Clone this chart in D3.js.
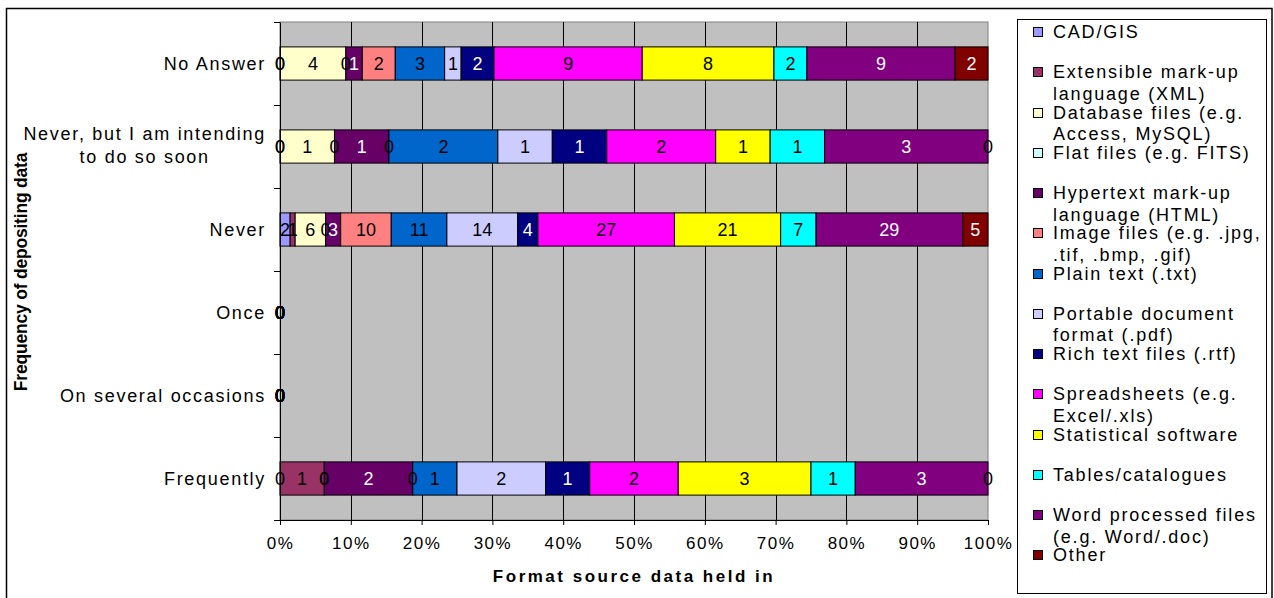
<!DOCTYPE html>
<html>
<head>
<meta charset="utf-8">
<script src="https://cdn.jsdelivr.net/npm/d3@7"></script>
<style>
  body { margin: 0; background: #fff; }
  svg { display: block; }
  text { font-family: "Liberation Sans", Arial, sans-serif; fill: #000; }
</style>
</head>
<body>
<svg id="chart" width="1274" height="598"></svg>
<script>
// Response categories (top to bottom)
const categories = [
  "No Answer",
  "Never, but I am intending to do so soon",
  "Never",
  "Once",
  "On several occasions",
  "Frequently"
];
const categoryLines = [
  ["No Answer"],
  ["Never, but I am intending", "to do so soon"],
  ["Never"],
  ["Once"],
  ["On several occasions"],
  ["Frequently"]
];

// Formats (stack order, left to right)
const seriesNames = [
  "CAD/GIS",
  "Extensible mark-up language (XML)",
  "Database files (e.g. Access, MySQL)",
  "Flat files (e.g. FITS)",
  "Hypertext mark-up language (HTML)",
  "Image files (e.g. .jpg, .tif, .bmp, .gif)",
  "Plain text (.txt)",
  "Portable document format (.pdf)",
  "Rich text files (.rtf)",
  "Spreadsheets (e.g. Excel/.xls)",
  "Statistical software",
  "Tables/catalogues",
  "Word processed files (e.g. Word/.doc)",
  "Other"
];
const legendLines = [
  ["CAD/GIS"],
  ["Extensible mark-up", "language (XML)"],
  ["Database files (e.g.", "Access, MySQL)"],
  ["Flat files (e.g. FITS)"],
  ["Hypertext mark-up", "language (HTML)"],
  ["Image files (e.g. .jpg,", ".tif, .bmp, .gif)"],
  ["Plain text (.txt)"],
  ["Portable document", "format (.pdf)"],
  ["Rich text files (.rtf)"],
  ["Spreadsheets (e.g.", "Excel/.xls)"],
  ["Statistical software"],
  ["Tables/catalogues"],
  ["Word processed files", "(e.g. Word/.doc)"],
  ["Other"]
];
const seriesColors = [
  "#9999FF", "#993366", "#FFFFCC", "#CCFFFF", "#660066", "#FF8080", "#0066CC",
  "#CCCCFF", "#000080", "#FF00FF", "#FFFF00", "#00FFFF", "#800080", "#800000"
];
const whiteLabelSeries = [
  "Hypertext mark-up language (HTML)", "Rich text files (.rtf)",
  "Word processed files (e.g. Word/.doc)", "Other"
];

// Counts per format, one value per category (same order as categories)
const cadGis       = [0, 0, 2, 0, 0, 0];
const xml          = [0, 0, 1, 0, 0, 1];
const database     = [4, 1, 6, 0, 0, 0];
const flatFiles    = [0, 0, 0, 0, 0, 0];
const html         = [1, 1, 3, 0, 0, 2];
const imageFiles   = [2, 0, 10, 0, 0, 0];
const plainText    = [3, 2, 11, 0, 0, 1];
const pdf          = [1, 1, 14, 0, 0, 2];
const rtf          = [2, 1, 4, 0, 0, 1];
const spreadsheets = [9, 2, 27, 0, 0, 2];
const statistical  = [8, 1, 21, 0, 0, 3];
const tables       = [2, 1, 7, 0, 0, 1];
const wordFiles    = [9, 3, 29, 0, 0, 3];
const other        = [2, 0, 5, 0, 0, 0];

const seriesValues = [cadGis, xml, database, flatFiles, html, imageFiles, plainText,
  pdf, rtf, spreadsheets, statistical, tables, wordFiles, other];

const xTicks = [0, 0.1, 0.2, 0.3, 0.4, 0.5, 0.6, 0.7, 0.8, 0.9, 1];

// Rows for d3.stack
const rows = categories.map((c, i) => {
  const r = { category: c };
  seriesNames.forEach((s, k) => { r[s] = seriesValues[k][i]; });
  return r;
});

const stacked = d3.stack()
  .keys(seriesNames)
  .offset(d3.stackOffsetExpand)(rows);

const svg = d3.select("#chart");

const plot = { left: 280, right: 988, top: 22, bottom: 520 };

const x = d3.scaleLinear().domain([0, 1]).range([plot.left, plot.right]);
const y = d3.scaleBand().domain(categories).range([plot.top, plot.bottom])
  .paddingInner(0.6).paddingOuter(0.3);
const color = d3.scaleOrdinal().domain(seriesNames).range(seriesColors);

// Outer frame
svg.append("rect")
  .attr("x", 6.5).attr("y", 8.5).attr("width", 1265.5).attr("height", 620)
  .attr("fill", "none").attr("stroke", "#000").attr("stroke-width", 1.5);

// Plot area
svg.append("rect")
  .attr("x", plot.left).attr("y", plot.top)
  .attr("width", plot.right - plot.left).attr("height", plot.bottom - plot.top)
  .attr("fill", "#C0C0C0").attr("stroke", "#808080").attr("stroke-width", 1);

// Vertical gridlines
svg.append("g").selectAll("line")
  .data(xTicks.slice(1, -1))
  .join("line")
  .attr("x1", d => Math.round(x(d)) + 0.5).attr("x2", d => Math.round(x(d)) + 0.5)
  .attr("y1", plot.top).attr("y2", plot.bottom)
  .attr("stroke", "#000").attr("stroke-width", 1);

// Bars
const layers = svg.append("g").selectAll("g")
  .data(stacked)
  .join("g")
  .attr("fill", d => color(d.key));

layers.selectAll("rect")
  .data(d => d.map((p, i) => ({ p, cat: categories[i] })))
  .join("rect")
  .attr("x", d => x(d.p[0]))
  .attr("y", d => y(d.cat))
  .attr("width", d => Math.max(0, x(d.p[1]) - x(d.p[0])))
  .attr("height", y.bandwidth())
  .attr("stroke", "#000").attr("stroke-width", 1)
  .attr("display", d => (d.p[1] - d.p[0]) > 0 ? null : "none");

// Value labels
const labelG = svg.append("g");
stacked.forEach((layer, k) => {
  const name = layer.key;
  layer.forEach((p, i) => {
    const v = seriesValues[k][i];
    labelG.append("text")
      .attr("x", x((p[0] + p[1]) / 2))
      .attr("y", y(categories[i]) + y.bandwidth() / 2 + 6.5)
      .attr("text-anchor", "middle")
      .style("font-size", "18px")
      .style("fill", whiteLabelSeries.includes(name) && v > 0 ? "#fff" : "#000")
      .text(v);
  });
});

// X axis
const xAxis = svg.append("g")
  .attr("transform", `translate(0,${plot.bottom})`)
  .call(d3.axisBottom(x).tickValues(xTicks).tickFormat(d3.format(".0%")).tickSize(5).tickSizeOuter(0));
xAxis.select(".domain").attr("stroke", "#000");
xAxis.selectAll(".tick line").attr("stroke", "#000");
xAxis.selectAll(".tick text")
  .attr("y", 29).attr("dy", 0)
  .style("font-size", "17px").style("letter-spacing", "1.5px")
  .style("font-family", "'Liberation Sans', Arial, sans-serif").attr("fill", "#000");

// Y axis
const yAxis = svg.append("g")
  .attr("transform", `translate(${plot.left},0)`)
  .call(d3.axisLeft(y).tickSize(0).tickSizeOuter(0).tickFormat(() => ""));
yAxis.select(".domain").attr("stroke", "#000");

// Ticks at category boundaries
const boundaries = categories.map(c => y(c) - y.step() * y.paddingOuter())
  .concat([plot.bottom]);
svg.append("g").selectAll("line")
  .data(boundaries)
  .join("line")
  .attr("x1", plot.left - 6).attr("x2", plot.left)
  .attr("y1", d => Math.round(d) + 0.5).attr("y2", d => Math.round(d) + 0.5)
  .attr("stroke", "#000");

// Category labels
const catG = svg.append("g");
categories.forEach((c, i) => {
  const lines = categoryLines[i];
  const cy = y(c) + y.bandwidth() / 2;
  const t = catG.append("text")
    .style("font-size", "18px").style("letter-spacing", "1.7px");
  if (lines.length === 1) {
    t.attr("x", 266).attr("y", cy + 6).attr("text-anchor", "end").text(lines[0]);
  } else {
    t.attr("text-anchor", "middle");
    lines.forEach((ln, j) => {
      t.append("tspan").attr("y", cy - 7 + j * 23.4).text(ln);
    });
    const w = d3.max(t.selectAll("tspan").nodes(), n => n.getComputedTextLength());
    t.selectAll("tspan").attr("x", 266 - w / 2);
  }
});

// Axis titles
svg.append("text")
  .attr("x", (plot.left + plot.right) / 2).attr("y", 582)
  .attr("text-anchor", "middle")
  .style("font-size", "17px").style("font-weight", "bold").style("letter-spacing", "2.5px")
  .text("Format source data held in");

svg.append("text")
  .attr("transform", "translate(27,272) rotate(-90)")
  .attr("text-anchor", "middle")
  .style("font-size", "17.5px").style("font-weight", "bold").style("letter-spacing", "-0.2px")
  .text("Frequency of depositing data");

// Legend
const legend = svg.append("g");
legend.append("rect")
  .attr("x", 1017.5).attr("y", 19.5).attr("width", 249).attr("height", 574)
  .attr("fill", "#fff").attr("stroke", "#000").attr("stroke-width", 1);

seriesNames.forEach((s, i) => {
  const cy = 31.7 + i * 40.25;
  legend.append("rect")
    .attr("x", 1033.5).attr("y", Math.round(cy - 4.5) + 0.5)
    .attr("width", 9).attr("height", 9)
    .attr("fill", color(s)).attr("stroke", "#000").attr("stroke-width", 1);
  const t = legend.append("text")
    .style("font-size", "18px").style("letter-spacing", "1.8px");
  legendLines[i].forEach((ln, j) => {
    t.append("tspan").attr("x", 1053).attr("y", cy + 6.5 + j * 21.5).text(ln);
  });
});
</script>
</body>
</html>
